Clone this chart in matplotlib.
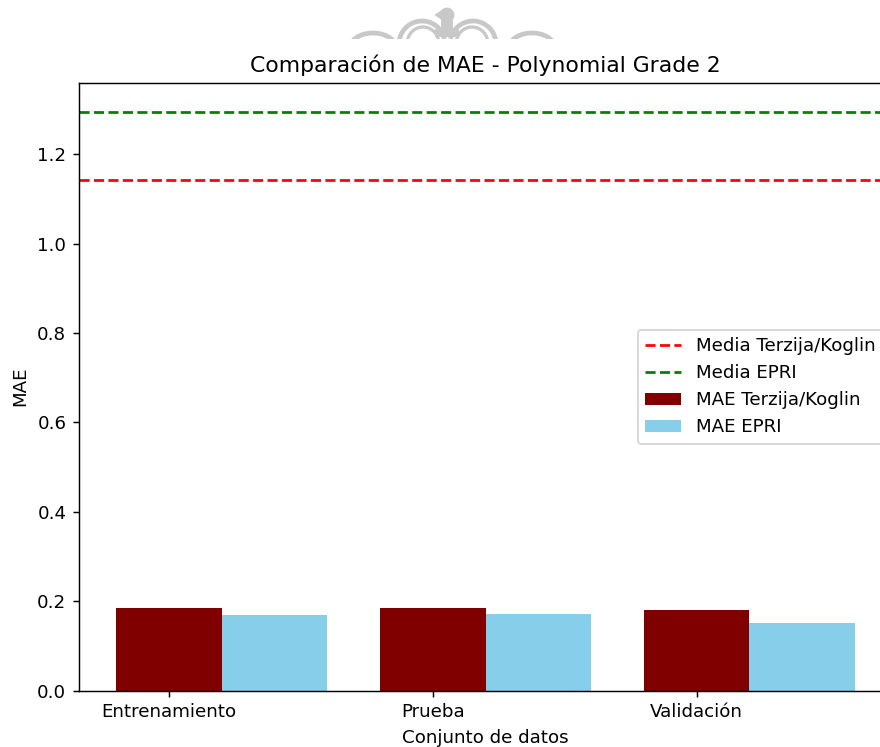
import numpy as np
import matplotlib
matplotlib.use("Agg")
import matplotlib.pyplot as plt
from matplotlib.patches import Ellipse, Arc, Polygon, Rectangle

categories = ["Entrenamiento", "Prueba", "Validación"]
mae_terzija = [0.186, 0.184, 0.180]
mae_epri = [0.169, 0.172, 0.151]
media_terzija = 1.142
media_epri = 1.295

DPI = 131
W, H = 880, 747
fig = plt.figure(figsize=(W / DPI, H / DPI), dpi=DPI)


# faint emblem above the title, positioned in pixel units
def fx(px):
    return px / W


def fy(py):
    return 1 - py / H


def fw(px):
    return px / W


def fh(px):
    return px / H


grey = "#c8c8c8"
clip = Rectangle((0, fy(39)), 1, 1 - fy(39), transform=fig.transFigure, visible=False)
fig.add_artist(clip)
emblem = [
    Ellipse((fx(447), fy(15)), fw(13), fh(13), transform=fig.transFigure, color=grey),
    Polygon([(fx(436), fy(15)), (fx(442), fy(11)), (fx(442), fy(19))],
            transform=fig.transFigure, color=grey),
    Rectangle((fx(442), fy(36)), fw(10), fh(16), transform=fig.transFigure, color=grey),
    Rectangle((fx(436), fy(36)), fw(22), fh(6), transform=fig.transFigure, color=grey),
]
for cx, cy, w, h, t1, t2, lw in [
    (422, 44, 46, 46, 15, 175, 2.6), (423, 44, 32, 34, 15, 175, 1.8),
    (473, 44, 46, 46, 5, 165, 2.6), (472, 44, 32, 34, 5, 165, 1.8),
    (373, 48, 46, 30, 10, 175, 2.6), (532, 48, 46, 30, 5, 170, 2.6),
]:
    emblem.append(Arc((fx(cx), fy(cy)), fw(w), fh(h), theta1=t1, theta2=t2,
                      transform=fig.transFigure, color=grey, lw=lw))
for a in emblem:
    a.set_clip_path(clip)
    fig.add_artist(a)

ax = fig.add_axes([79 / W, 1 - 690.7 / H, (892 - 79) / W, (690.7 - 82.7) / H])

x = np.arange(len(categories))
width = 0.4
ax.axhline(media_terzija, color="red", linestyle="--", label="Media Terzija/Koglin")
ax.axhline(media_epri, color="green", linestyle="--", label="Media EPRI")
ax.bar(x, mae_terzija, width, color="maroon", label="MAE Terzija/Koglin")
ax.bar(x + width, mae_epri, width, color="skyblue", label="MAE EPRI")

ax.set_xticks(x)
ax.set_xticklabels(categories)
ax.set_ylim(0, max(media_terzija, media_epri) * 1.05)
ax.set_xlabel("Conjunto de datos")
ax.set_ylabel("MAE")
ax.set_title("Comparación de MAE - Polynomial Grade 2")
ax.legend(loc="center right")

fig.savefig("out.png", dpi=DPI)
